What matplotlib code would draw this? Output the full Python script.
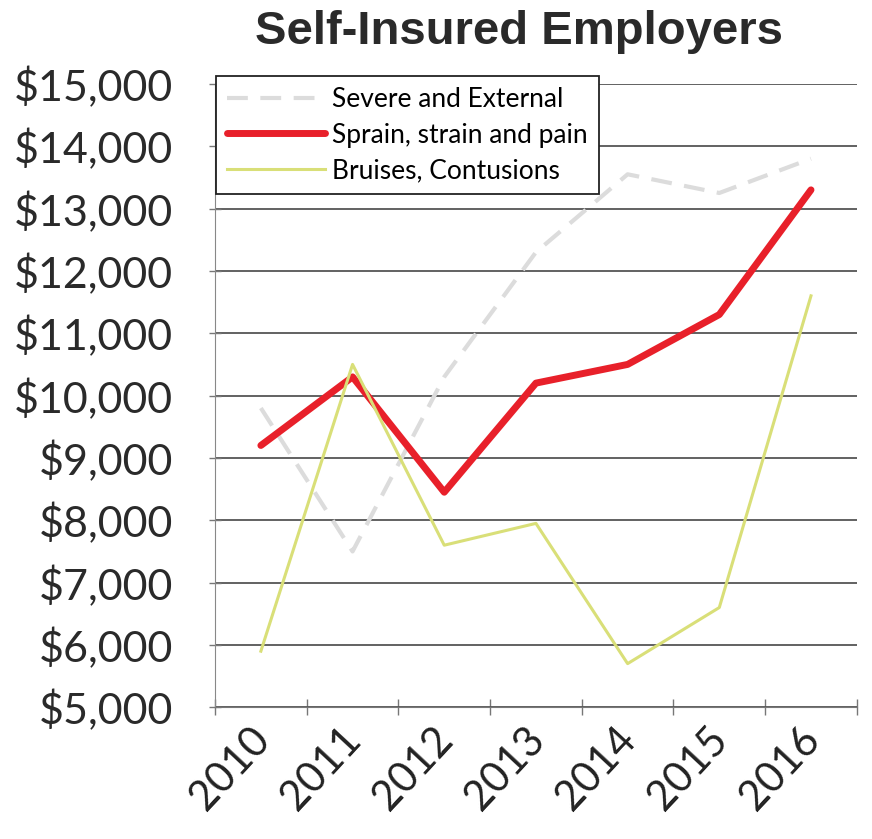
import numpy as np
import matplotlib
matplotlib.use("Agg")
import matplotlib.pyplot as plt
from matplotlib.ticker import FuncFormatter, FixedLocator
from matplotlib.transforms import ScaledTranslation

# values
years = ['2010', '2011', '2012', '2013', '2014', '2015', '2016']
severe = [9800, 7500, 10300, 12300, 13550, 13250, 13800]
sprain = [9200, 10300, 8450, 10200, 10500, 11300, 13300]
bruises = [5900, 10500, 7600, 7950, 5700, 6600, 11600]

y_ticks = np.arange(5000, 15001, 1000)

label_font = 'Lato'

fig = plt.figure(figsize=(8.72, 8.39), dpi=100)
ax = fig.add_axes([0.2466, 0.157, 0.736, 0.743])

x = np.arange(len(years))
ax.plot(x, severe, color='#dcdcdc', lw=3, ls=(0, (5, 3)), label='Severe and External', zorder=2)
ax.plot(x, sprain, color='#e8202a', lw=5, solid_capstyle='round', solid_joinstyle='round',
        label='Sprain, strain and pain', zorder=3)
ax.plot(x, bruises, color='#d9df78', lw=2.2, label='Bruises, Contusions', zorder=4)

ax.set_xlim(-0.5, len(years) - 0.5)
ax.set_ylim(5000, 15000)

# category labels between tick marks, like the spreadsheet chart
ax.xaxis.set_major_locator(FixedLocator(np.arange(-0.5, len(years), 1.0)))
ax.xaxis.set_minor_locator(FixedLocator(x))
ax.set_xticklabels([])
ax.set_xticklabels(years, minor=True)
ax.tick_params(axis='x', which='major', direction='inout', length=12, width=1, color='#777777')
ax.tick_params(axis='x', which='minor', length=0, pad=14)
shift = ScaledTranslation(0.02, -0.06, fig.dpi_scale_trans)
for lab in ax.get_xticklabels(minor=True):
    lab.set_rotation(47)
    lab.set_ha('right')
    lab.set_va('center')
    lab.set_rotation_mode('anchor')
    lab.set_fontsize(30)
    lab.set_family(label_font)
    lab.set_color('#222222')
    lab.set_transform(lab.get_transform() + shift)

ax.set_yticks(y_ticks)
ax.yaxis.set_major_formatter(FuncFormatter(lambda v, p: f'${v:,.0f}'))
ax.tick_params(axis='y', direction='inout', length=8, width=1, color='#777777', pad=26,
               labelsize=31, labelcolor='#2a2a2a')
for lab in ax.get_yticklabels():
    lab.set_family(label_font)

ax.grid(axis='y', color='#555555', lw=1.3)
ax.set_axisbelow(True)
for side in ['top', 'right']:
    ax.spines[side].set_visible(False)
ax.spines['left'].set_color('#888888')
ax.spines['bottom'].set_color('#777777')

leg = ax.legend(loc='upper left', bbox_to_anchor=(0.002, 1.012),
                prop={'family': label_font, 'size': 19}, frameon=True, fancybox=False,
                edgecolor='#222222', framealpha=1, handlelength=3.7, labelspacing=0.4,
                borderpad=0.4, handletextpad=0.3, borderaxespad=0)
leg.get_frame().set_linewidth(1.3)

fig.text(0.595, 0.962, 'Self-Insured Employers', ha='center', va='center',
         fontsize=34, fontweight='bold', family='Liberation Sans', color='#2a2a2a')

fig.savefig('out.png', dpi=100, facecolor='white')
